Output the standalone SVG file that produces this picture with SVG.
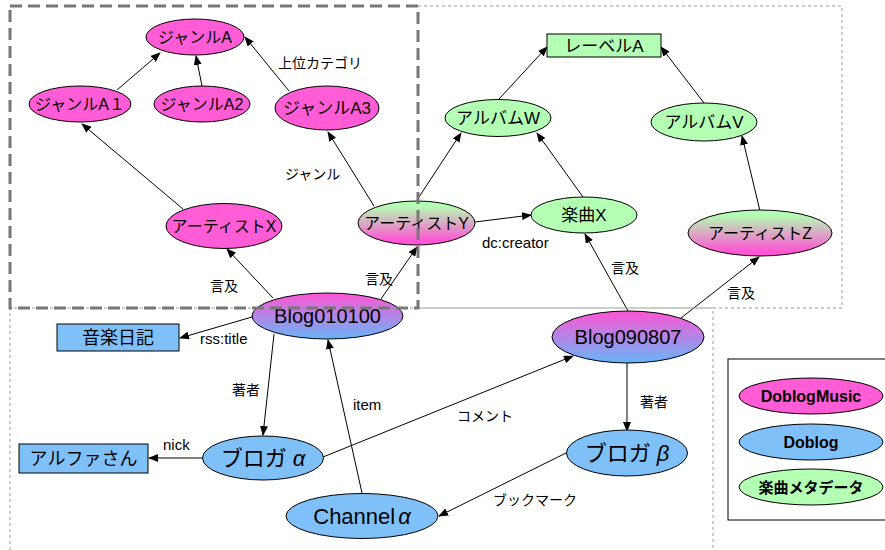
<svg xmlns="http://www.w3.org/2000/svg" width="885" height="550" viewBox="0 0 885 550">
<defs>
<marker id="ah" markerWidth="10" markerHeight="8" refX="9" refY="4" orient="auto" markerUnits="userSpaceOnUse">
<path d="M0,0 L10,4 L0,8 Z" fill="#000"/>
</marker>
<linearGradient id="gPB" x1="0" y1="0" x2="0" y2="1">
<stop offset="0" stop-color="#FF55D4"/>
<stop offset="1" stop-color="#66B5F7"/>
</linearGradient>
<linearGradient id="gGP" x1="0" y1="0" x2="0" y2="1">
<stop offset="0.1" stop-color="#B3FFB3"/>
<stop offset="0.9" stop-color="#FF55D4"/>
</linearGradient>
<style>
.n{stroke:#000;stroke-width:1}
.pk{fill:#FF5CD6}
.bl{fill:#80C0F8}
.gr{fill:#B3FFB3}
.t{font-family:"Liberation Sans","Noto Sans CJK JP",sans-serif;fill:#000;text-anchor:middle}
.l{font-family:"Liberation Sans","Noto Sans CJK JP",sans-serif;fill:#000;font-size:14px}
.e line{stroke:#000;stroke-width:1;marker-end:url(#ah)}
.lg{font-family:"Liberation Sans","Noto Sans CJK JP",sans-serif;font-weight:bold;fill:#000;text-anchor:middle}
</style>
</defs>
<rect width="885" height="550" fill="#fff"/>

<g id="connectors" class="e">
<line x1="117" y1="90" x2="160" y2="53"/>
<line x1="202" y1="86" x2="196" y2="56"/>
<line x1="289" y1="91" x2="245" y2="37"/>
<line x1="183" y1="209" x2="82" y2="124"/>
<line x1="374" y1="206" x2="328" y2="132"/>
<line x1="417" y1="200" x2="461" y2="133"/>
<line x1="475" y1="222" x2="531" y2="215"/>
<line x1="583" y1="197" x2="537" y2="133"/>
<line x1="499" y1="99" x2="547" y2="47"/>
<line x1="704" y1="103" x2="661" y2="47"/>
<line x1="760" y1="211" x2="742" y2="136"/>
<line x1="273" y1="298" x2="227" y2="249"/>
<line x1="381" y1="299" x2="417" y2="247"/>
<line x1="628" y1="311" x2="585" y2="234"/>
<line x1="681" y1="318" x2="759" y2="257"/>
<line x1="252" y1="317" x2="180" y2="338"/>
<line x1="274" y1="334" x2="263" y2="435"/>
<line x1="362" y1="493" x2="328" y2="340"/>
<line x1="202" y1="458" x2="149" y2="458"/>
<line x1="323" y1="457" x2="573" y2="356"/>
<line x1="627" y1="363" x2="627" y2="431"/>
<line x1="566" y1="453" x2="439" y2="516"/>
</g>

<g id="edge-labels">
<text class="l" x="278" y="68">上位カテゴリ</text>
<text class="l" x="285" y="179">ジャンル</text>
<text class="l" x="210" y="291">言及</text>
<text class="l" x="365" y="284">言及</text>
<text class="l" x="482" y="248" style="font-size:15px">dc:creator</text>
<text class="l" x="611" y="273">言及</text>
<text class="l" x="727" y="298">言及</text>
<text class="l" x="200" y="344" style="font-size:15px">rss:title</text>
<text class="l" x="232" y="395">著者</text>
<text class="l" x="353" y="410" style="font-size:15px">item</text>
<text class="l" x="163" y="450" style="font-size:15px">nick</text>
<text class="l" x="457" y="421">コメント</text>
<text class="l" x="640" y="407">著者</text>
<text class="l" x="493" y="505">ブックマーク</text>
</g>

<g id="genreA"><ellipse class="n pk" cx="195" cy="37" rx="49" ry="18"/><text class="t" x="195" y="43" font-size="16">ジャンルA</text></g>
<g id="genreA1"><ellipse class="n pk" cx="80" cy="104" rx="51" ry="18"/><text class="t" x="80" y="110" font-size="16">ジャンルA１</text></g>
<g id="genreA2"><ellipse class="n pk" cx="202" cy="104" rx="48" ry="18"/><text class="t" x="202" y="110" font-size="16">ジャンルA2</text></g>
<g id="genreA3"><ellipse class="n pk" cx="327" cy="108" rx="52" ry="22"/><text class="t" x="327" y="114" font-size="17">ジャンルA3</text></g>
<g id="artistX"><ellipse class="n pk" cx="224" cy="226" rx="58" ry="22.5"/><text class="t" x="224" y="232" font-size="16">アーティストX</text></g>
<g id="artistY"><ellipse class="n" fill="url(#gGP)" cx="416.5" cy="223" rx="58.5" ry="22"/><text class="t" x="416.5" y="229" font-size="16">アーティストY</text></g>
<g id="songX"><ellipse class="n gr" cx="584" cy="215" rx="53" ry="18"/><text class="t" x="584" y="221" font-size="17">楽曲X</text></g>
<g id="albumW"><ellipse class="n gr" cx="498" cy="118" rx="53" ry="18.5"/><text class="t" x="498" y="124" font-size="17">アルバムW</text></g>
<g id="albumV"><ellipse class="n gr" cx="704" cy="122" rx="53" ry="19"/><text class="t" x="704" y="128" font-size="17">アルバムV</text></g>
<g id="labelA"><rect class="n gr" x="547" y="34" width="114" height="23"/><text class="t" x="604" y="52" font-size="17">レーベルA</text></g>
<g id="artistZ"><ellipse class="n" fill="url(#gGP)" cx="760" cy="233" rx="72" ry="23"/><text class="t" x="760" y="239" font-size="16">アーティストZ</text></g>
<g id="blog010100"><ellipse class="n" fill="url(#gPB)" cx="327.5" cy="316" rx="75.5" ry="23"/><text class="t" x="327.5" y="323" font-size="20">Blog010100</text></g>
<g id="blog090807"><ellipse class="n" fill="url(#gPB)" cx="628" cy="337" rx="76" ry="26"/><text class="t" x="628" y="344" font-size="20">Blog090807</text></g>
<g id="ongakunikki"><rect class="n bl" x="57" y="324" width="122" height="27"/><text class="t" x="118" y="344" font-size="18">音楽日記</text></g>
<g id="alphasan"><rect class="n bl" x="19" y="444" width="129" height="29"/><text class="t" x="83.5" y="465" font-size="18">アルファさん</text></g>
<g id="bloggerAlpha"><ellipse class="n bl" cx="263" cy="458" rx="60.5" ry="22"/><text class="t" x="263" y="466" font-size="22">ブロガ <tspan font-style="italic">α</tspan></text></g>
<g id="channelAlpha"><ellipse class="n bl" cx="362" cy="516" rx="76" ry="22.5"/><text class="t" x="362" y="524" font-size="22">Channel<tspan font-style="italic" dx="3">α</tspan></text></g>
<g id="bloggerBeta"><ellipse class="n bl" cx="627" cy="453" rx="60.5" ry="23"/><text class="t" x="627" y="461" font-size="22">ブロガ <tspan font-style="italic">β</tspan></text></g>

<g id="legend">
<rect x="728" y="359" width="170" height="161" fill="#fff" stroke="#000" stroke-width="1"/>
<ellipse class="n pk" cx="811" cy="396" rx="72" ry="18"/><text class="lg" x="811" y="402" font-size="16">DoblogMusic</text>
<ellipse class="n bl" cx="811" cy="442" rx="72" ry="18"/><text class="lg" x="811" y="448" font-size="16">Doblog</text>
<ellipse class="n gr" cx="811" cy="487" rx="72" ry="18"/><text class="lg" x="811" y="493" font-size="15">楽曲メタデータ</text>
</g>

<g id="regions" fill="none">
<path d="M418,6 H842 V308 H418" stroke="#999" stroke-width="1" stroke-dasharray="3,3"/>
<path d="M10,550 V308 H713 V550" stroke="#999" stroke-width="1" stroke-dasharray="3,3"/>
<rect x="10" y="6" width="408" height="302" stroke="#777" stroke-width="3" stroke-dasharray="12,6"/>
</g>
</svg>
